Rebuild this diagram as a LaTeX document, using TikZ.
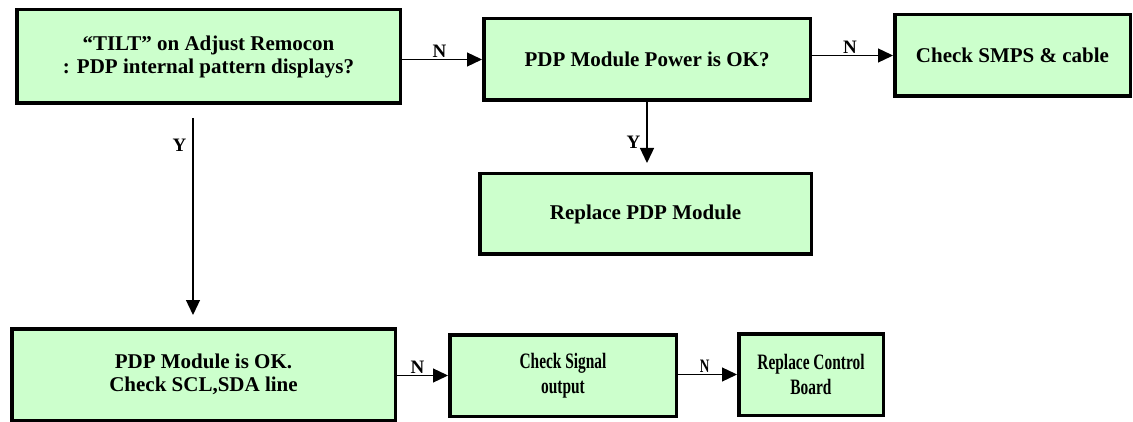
\documentclass[tikz,border=0pt]{standalone}
\usepackage{fontspec}
\setmainfont{Liberation Serif}
\newfontfamily\narrowfont[FakeStretch=0.7]{Liberation Serif}
\usetikzlibrary{arrows.meta}
\definecolor{boxgreen}{HTML}{CCFFCC}

\begin{document}
\begin{tikzpicture}[x=1pt, y=-1pt,
    box/.style={draw, line width=3.5pt, fill=boxgreen, align=center,
        font=\fontsize{21}{23}\selectfont\bfseries, inner sep=0pt},
    narrowbox/.style={box, font=\narrowfont\fontsize{22}{25}\selectfont\bfseries},
    arr/.style={line width=1.3pt, -{Triangle[length=15pt,width=14pt]}},
    lbl/.style={font=\fontsize{19}{19}\selectfont\bfseries, inner sep=1pt}]
    \useasboundingbox (0,0) rectangle (1133,422);

    % --- top row ---
    \node[box, minimum width=383.5pt, minimum height=93.5pt] (tilt) at (208.5,56.5)
        {``TILT'' on Adjust Remocon\\: PDP internal pattern displays?};
    \node[box, minimum width=326.5pt, minimum height=81.5pt] (power) at (647,59.5)
        {PDP Module Power is OK?};
    \node[box, minimum width=235.5pt, minimum height=81.5pt] (smps) at (1012.5,55.5)
        {Check SMPS \& cable};

    % --- replace module ---
    \node[box, minimum width=331.5pt, minimum height=80.5pt] (replace) at (645.5,214)
        {Replace PDP Module};

    % --- bottom row ---
    \node[box, minimum width=383.5pt, minimum height=91.5pt] (sclsda) at (203.5,374.5)
        {PDP Module is OK.\\Check SCL,SDA line};
    \node[narrowbox, minimum width=226.5pt, minimum height=81.5pt] (signal) at (563,375.5)
        {Check Signal\\output};
    \node[narrowbox, minimum width=144.5pt, minimum height=81.5pt] (board) at (811,374.5)
        {Replace Control\\Board};

    % --- connectors ---
    \draw[arr] (tilt.east |- power.west) -- node[lbl, above, pos=0.47] {N} (power.west);
    \draw[arr] (power.east |- smps.west) -- node[lbl, above, pos=0.47] {N} (smps.west);
    \draw[arr, shorten >=9pt] (power.south) -- node[lbl, left, pos=0.57, xshift=-5pt] {Y} (power.south |- replace.north);
    \draw[arr, shorten <=13pt, shorten >=12pt] ([xshift=-15.5pt]tilt.south)
        -- node[lbl, left, pos=0.18, xshift=-5pt] {Y} ([xshift=-15.5pt]tilt.south |- sclsda.north);
    \draw[arr] (sclsda.east |- signal.west) -- node[lbl, above, pos=0.4] {N} (signal.west);
    \draw[arr] (signal.east |- board.west) -- node[lbl, above, pos=0.45, font=\narrowfont\fontsize{19}{19}\selectfont\bfseries] {N} (board.west);
\end{tikzpicture}
\end{document}
